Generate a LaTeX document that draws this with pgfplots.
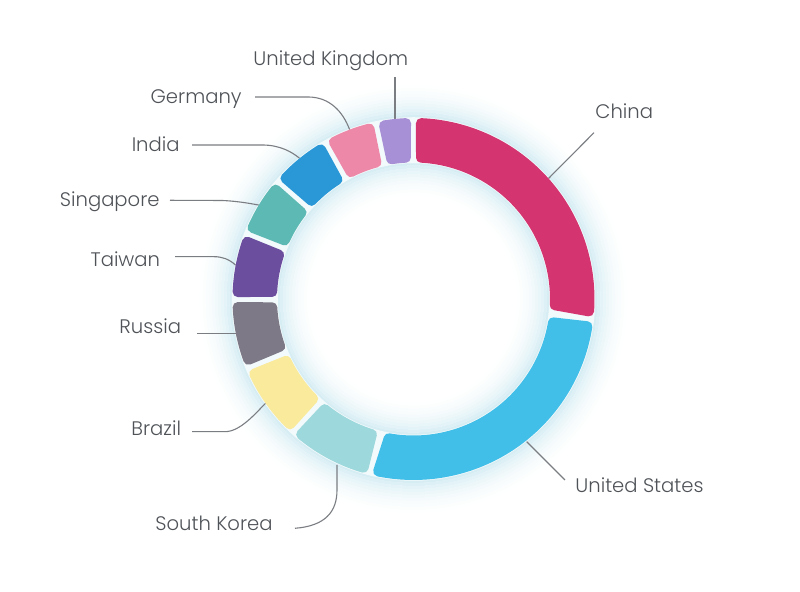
\documentclass[border=0pt]{standalone}
\usepackage{fontspec}
\setmainfont{Poppins Light}
\usepackage{pgfplots}
\usepackage{pgfplotstable}
\pgfplotsset{compat=1.18}
\definecolor{cChina}{HTML}{D43571}
\definecolor{cUS}{HTML}{41BFE9}
\definecolor{cSK}{HTML}{9DD8DC}
\definecolor{cBrazil}{HTML}{F9EA9C}
\definecolor{cRussia}{HTML}{7D7987}
\definecolor{cTaiwan}{HTML}{6B4E9E}
\definecolor{cSing}{HTML}{5DB9B4}
\definecolor{cIndia}{HTML}{2A97D6}
\definecolor{cGermany}{HTML}{EE88A8}
\definecolor{cUK}{HTML}{A890D6}
\definecolor{glow}{HTML}{BDE2EE}
\definecolor{labelc}{HTML}{4F5358}
\definecolor{leader}{HTML}{7A7D82}

\pgfplotstableread[col sep=comma]{
country,value,col
China,26.8,cChina
United States,27.1,cUS
South Korea,7.8,cSK
Brazil,7.0,cBrazil
Russia,6.25,cRussia
Taiwan,6.0,cTaiwan
Singapore,5.4,cSing
India,5.5,cIndia
Germany,4.8,cGermany
United Kingdom,3.35,cUK
}\sharetable

\begin{document}
\begin{tikzpicture}
\begin{axis}[at={(0,0)}, anchor=south west, scale only axis,
  width=400pt, height=296pt, xmin=0, xmax=800, ymin=0, ymax=592,
  hide axis, clip=false]
\path (axis cs:0,0) rectangle (axis cs:800,592);
% glow
\pgfplotsforeachungrouped \k in {0,...,11}{%
  \pgfmathsetmacro{\ro}{182.5+3*\k}
  \pgfmathsetmacro{\ri}{135-3*\k}
  \pgfmathsetmacro{\pp}{62*(1-\k/12)^2}
  \edef\tmp{\noexpand\draw[draw=glow!\pp!white, line width=1.6pt] (axis cs:413.5,293) circle[radius=\ro];
    \noexpand\draw[draw=glow!\pp!white, line width=1.6pt] (axis cs:413.5,293) circle[radius=\ri];}
  \tmp
}
\draw[draw=glow!18!white, line width=23pt] (axis cs:413.5,293) circle[radius=158.75];
% leaders
\begin{scope}[leader, line width=0.55pt]
\draw (axis cs:395,515) -- (axis cs:395,473);
\draw (axis cs:255,495) -- (axis cs:308,495) .. controls (axis cs:330,495) and (axis cs:343,480) .. (axis cs:349.6,462.4);
\draw (axis cs:192,447) -- (axis cs:262,447) .. controls (axis cs:280,447) and (axis cs:292,440) .. (axis cs:299.6,433.7);
\draw (axis cs:170,391.7) -- (axis cs:222,391.5) .. controls (axis cs:235,391) and (axis cs:248,389) .. (axis cs:258.8,386.9);
\draw (axis cs:175,335.3) -- (axis cs:214,335.3) .. controls (axis cs:222,335.3) and (axis cs:229,333) .. (axis cs:235.7,326.8);
\draw (axis cs:197,258.7) -- (axis cs:236,258.7);
\draw (axis cs:192,160.3) -- (axis cs:225,160.3) .. controls (axis cs:240,160.3) and (axis cs:255,178) .. (axis cs:265.5,188.7);
\draw (axis cs:295,63.7) .. controls (axis cs:325,66) and (axis cs:337,80) .. (axis cs:337,102) -- (axis cs:337,127);
\draw (axis cs:594,459.3) -- (axis cs:548.5,413.5);
\draw (axis cs:565,112) -- (axis cs:526.7,150.3);
\end{scope}
% segments
\def\dO{2.44}
\def\dI{3.04}
\def\cum{0}
\pgfplotsforeachungrouped \i in {0,...,9}{%
  \pgfplotstablegetelem{\i}{value}\of\sharetable
  \let\segval=\pgfplotsretval
  \pgfplotstablegetelem{\i}{col}\of\sharetable
  \let\segcol=\pgfplotsretval
  \pgfmathsetmacro{\aA}{90-3.6*\cum-\dO}
  \pgfmathsetmacro{\aB}{90-3.6*(\cum+\segval)+\dO}
  \pgfmathsetmacro{\aC}{90-3.6*(\cum+\segval)+\dI}
  \pgfmathsetmacro{\aD}{90-3.6*\cum-\dI}
  \edef\tmp{\noexpand\addplot[fill=\segcol, draw=\segcol, line width=5pt, line join=round, domain=0:2, samples=201]
   ({413.5+ifthenelse(x<1.0005, 176*cos((\aA)+((\aB)-(\aA))*x), 141.5*cos((\aC)+((\aD)-(\aC))*(x-1)))},
    {293+ifthenelse(x<1.0005, 176*sin((\aA)+((\aB)-(\aA))*x), 141.5*sin((\aC)+((\aD)-(\aC))*(x-1)))}) -- cycle;}
  \tmp
  \pgfmathsetmacro{\cum}{\cum+\segval}
}
% labels
\begin{scope}[every node/.style={text=labelc, font=\fontsize{9.8}{12}\selectfont, inner sep=0pt}]
\node[anchor=base west] at (axis cs:253,526) {United Kingdom};
\node[anchor=base east] at (axis cs:242,488.5) {Germany};
\node[anchor=base east] at (axis cs:180,440.3) {India};
\node[anchor=base east] at (axis cs:160,385.3) {Singapore};
\node[anchor=base east] at (axis cs:160.5,325.3) {Taiwan};
\node[anchor=base east] at (axis cs:181.5,258.7) {Russia};
\node[anchor=base east] at (axis cs:181.5,156) {Brazil};
\node[anchor=base west] at (axis cs:155,61) {South Korea};
\node[anchor=base west] at (axis cs:595,473) {China};
\node[anchor=base west] at (axis cs:575,99.7) {United States};
\end{scope}
\end{axis}
\end{tikzpicture}
\end{document}
